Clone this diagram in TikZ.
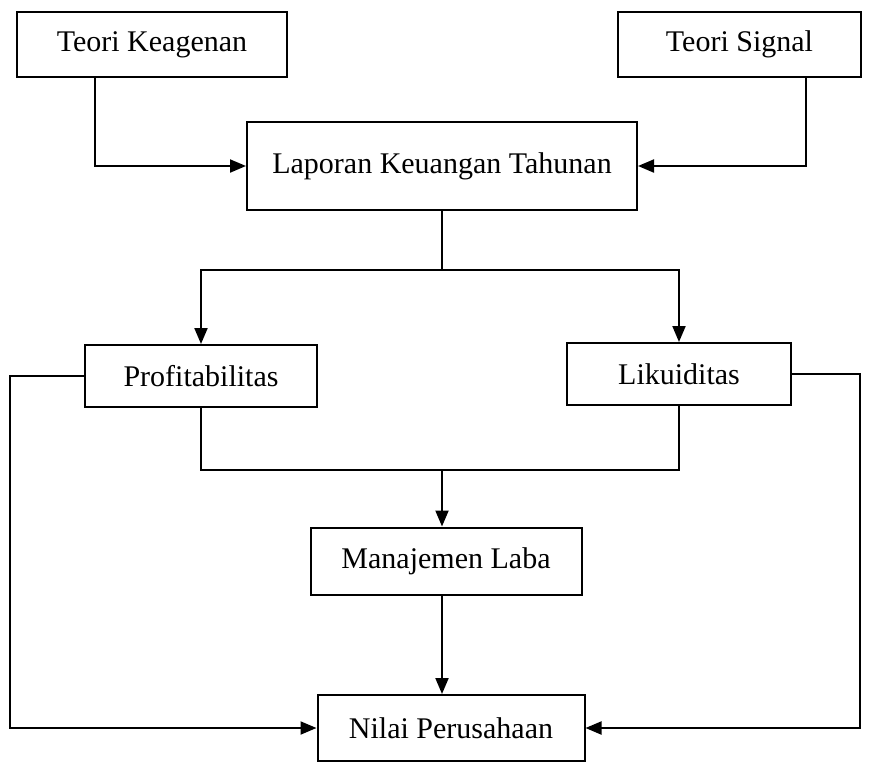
\documentclass[tikz,border=0pt]{standalone}
\usepackage{fontspec}
\setmainfont{Liberation Serif}
\usetikzlibrary{arrows.meta}
\begin{document}
\begin{tikzpicture}[x=0.5pt, y=-0.5pt, line width=1pt,
				    >={Triangle[length=8pt,width=6.5pt]},
				    box/.style={draw, fill=none, inner sep=0pt,
				    			  text centered, text=black,
				    			  font=\fontsize{15}{18}\selectfont}]
	\useasboundingbox (0,0) rectangle (873,762);
	\node[box, minimum width=135pt, minimum height=32.5pt] (tk)  at (152, 44.5) {Teori Keagenan};
	\node[box, minimum width=121.5pt, minimum height=32.5pt] (ts)  at (739.5, 44.5) {Teori Signal};
	\node[box, minimum width=195pt, minimum height=44pt] (lkt) at (442, 166) {Laporan Keuangan Tahunan};
	\node[box, minimum width=116pt, minimum height=31pt] (prof) at (201, 376) {Profitabilitas};
	\node[box, minimum width=112pt, minimum height=31pt] (lik) at (679, 374) {Likuiditas};
	\node[box, minimum width=135.5pt, minimum height=33.5pt] (man) at (446, 561) {Manajemen Laba};
	\node[box, minimum width=133.5pt, minimum height=33pt] (nil) at (451, 728) {Nilai Perusahaan};
	\coordinate (tkd)   at (95, 77);
	\coordinate (tsd)   at (806, 77);
	\coordinate (split) at (442, 270);
	\coordinate (merge) at (442, 470);
	\coordinate (lout)  at (10, 500);
	\coordinate (rout)  at (860, 500);
	\draw[->] (tkd) |- (lkt.west);
	\draw[->] (tsd) |- (lkt.east);
	\draw (lkt.south) -- (split);
	\draw[->] (split) -| (prof.north);
	\draw[->] (split) -| (lik.north);
	\draw (prof.south) |- (merge) -| (lik.south);
	\draw[->] (merge) -- (merge |- man.north);
	\draw[->] (merge |- man.south) -- (merge |- nil.north);
	\draw[->] (prof.west) -| (lout) |- (nil.west);
	\draw[->] (lik.east) -| (rout) |- (nil.east);
\end{tikzpicture}
\end{document}
